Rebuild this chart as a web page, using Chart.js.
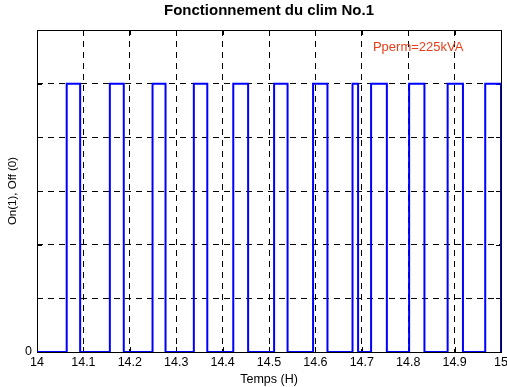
<!DOCTYPE html>
<html>
<head>
<meta charset="utf-8">
<script src="https://cdn.jsdelivr.net/npm/chart.js@4.4.1/dist/chart.umd.min.js"></script>
<style>
  html, body { margin: 0; padding: 0; background: #fff; }
  #wrap { width: 507px; height: 387px; }
</style>
</head>
<body>
<div id="wrap"><canvas id="clim"></canvas></div>
<script>
// instants de mise en marche / arret du clim (heures)
const onTimes  = [14.064, 14.157, 14.249, 14.338, 14.423, 14.511, 14.595, 14.680, 14.720, 14.802, 14.885, 14.966];
const offTimes = [14.093, 14.187, 14.277, 14.367, 14.455, 14.540, 14.626, 14.692, 14.754, 14.835, 14.918, 15.000];
const xTicks = [14, 14.1, 14.2, 14.3, 14.4, 14.5, 14.6, 14.7, 14.8, 14.9, 15];
const yTicks = [0, 0.2, 0.4, 0.6, 0.8, 1, 1.2];
const yLabels = ['0', '', '', '', '', '', ''];
const noteText = 'Pperm=225kVA';
const notePos = {x: 14.724, y: 1.135};

// signal carre: 0 -> 1 a chaque mise en marche, 1 -> 0 a chaque arret
const signal = [{x: 14, y: 0}];
onTimes.forEach((t, i) => {
  signal.push({x: t, y: 0}, {x: t, y: 1}, {x: offTimes[i], y: 1}, {x: offTimes[i], y: 0});
});

const FONT = '"Liberation Sans", Arial, sans-serif';

const boxPlugin = {
  id: 'box',
  beforeDatasetsDraw(chart) {
    const {ctx, chartArea: a, scales} = chart;
    ctx.save();
    ctx.strokeStyle = '#000';
    ctx.lineWidth = 1;
    ctx.beginPath();
    xTicks.forEach(v => {
      const px = Math.round(scales.x.getPixelForValue(v)) + 0.5;
      ctx.moveTo(px, a.bottom); ctx.lineTo(px, a.bottom - 5);
      ctx.moveTo(px, a.top); ctx.lineTo(px, a.top + 5);
    });
    yTicks.forEach(v => {
      const py = Math.round(scales.y.getPixelForValue(v)) + 0.5;
      ctx.moveTo(a.left, py); ctx.lineTo(a.left + 5, py);
      ctx.moveTo(a.right, py); ctx.lineTo(a.right - 5, py);
    });
    ctx.stroke();
    ctx.strokeRect(Math.round(a.left) + 0.5, Math.round(a.top) + 0.5,
                   Math.round(a.right - a.left), Math.round(a.bottom - a.top));
    ctx.restore();
  },
  afterDatasetsDraw(chart) {
    const {ctx, scales} = chart;
    ctx.save();
    ctx.fillStyle = '#e8401c';
    ctx.font = '13px ' + FONT;
    ctx.textBaseline = 'middle';
    ctx.fillText(noteText, scales.x.getPixelForValue(notePos.x), scales.y.getPixelForValue(notePos.y));
    ctx.restore();
  }
};

const gridStyle = {
  color: '#000',
  lineWidth: 1,
  drawTicks: false,
};

new Chart(document.getElementById('clim'), {
  type: 'line',
  data: {
    datasets: [{
      data: signal,
      borderColor: '#0000ff',
      borderWidth: 2,
      pointRadius: 0,
      fill: false,
      tension: 0,
    }]
  },
  options: {
    responsive: true,
    maintainAspectRatio: false,
    animation: false,
    layout: { padding: { left: 6, right: 6, top: 0, bottom: 0 } },
    plugins: {
      legend: { display: false },
      tooltip: { enabled: false },
      title: {
        display: true,
        fullSize: false,
        text: 'Fonctionnement du clim No.1',
        color: '#000',
        font: { family: FONT, size: 15, weight: 'bold' },
        padding: { top: 2, bottom: 10 },
      },
    },
    scales: {
      x: {
        type: 'linear',
        min: 14,
        max: 15,
        afterBuildTicks: s => { s.ticks = xTicks.map(v => ({value: v})); },
        afterFit: s => { s.height = 35; s.paddingRight = 0; },
        border: { display: false, dash: [6, 5] },
        grid: gridStyle,
        ticks: {
          color: '#000',
          padding: 3,
          maxRotation: 0,
          font: { family: FONT, size: 12.5 },
          callback: v => String(Math.round(v * 10) / 10),
        },
        title: {
          display: true,
          text: 'Temps (H)',
          color: '#000',
          padding: { top: 0, bottom: 0 },
          font: { family: FONT, size: 12.5 },
        },
      },
      y: {
        min: 0,
        max: 1.2,
        afterBuildTicks: s => { s.ticks = yTicks.map(v => ({value: v})); },
        afterFit: s => { s.width = 31; },
        border: { display: false, dash: [6, 5] },
        grid: gridStyle,
        ticks: {
          color: '#000',
          padding: 5,
          font: { family: FONT, size: 12.5 },
          callback: (v, i) => yLabels[i],
        },
        title: {
          display: true,
          text: 'On(1), Off (0)',
          color: '#000',
          padding: { top: 0, bottom: 0 },
          font: { family: FONT, size: 11.5 },
        },
      },
    },
  },
  plugins: [boxPlugin],
});
</script>
</body>
</html>
